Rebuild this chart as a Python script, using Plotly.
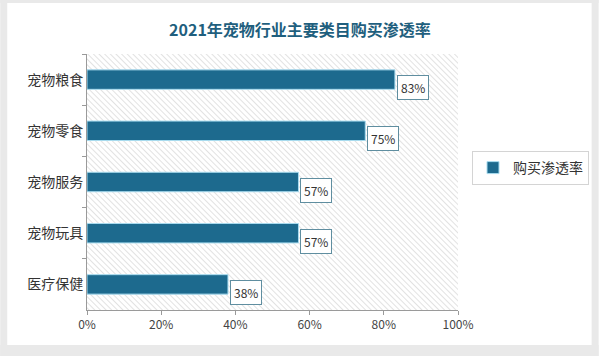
import base64
import plotly.graph_objects as go

categories = ["宠物粮食", "宠物零食", "宠物服务", "宠物玩具", "医疗保健"]
values = [83, 75, 57, 57, 38]
x_ticks = [0, 20, 40, 60, 80, 100]
x_tick_labels = ["0%", "20%", "40%", "60%", "80%", "100%"]
series_name = "购买渗透率"
title_text = "2021年宠物行业主要类目购买渗透率"

BAR = "#1d6a8e"
FONT = "Noto Sans CJK SC"

svg = ('<svg xmlns="http://www.w3.org/2000/svg" width="372" height="256" viewBox="0 0 372 256" preserveAspectRatio="none">'
       '<defs><pattern id="p" width="4" height="4" patternUnits="userSpaceOnUse" patternTransform="rotate(-45)">'
       '<line x1="0" y1="0" x2="0" y2="4" stroke="#d6d6d6" stroke-width="1.4"/></pattern></defs>'
       '<rect width="372" height="256" fill="#ffffff"/><rect width="372" height="256" fill="url(#p)"/></svg>')
svg_uri = "data:image/svg+xml;base64," + base64.b64encode(svg.encode()).decode()

fig = go.Figure()
fig.add_trace(go.Bar(
    x=values, y=categories, orientation="h", name=series_name,
    marker=dict(color=BAR, line=dict(color="#a9dcef", width=1)),
    width=0.38, showlegend=True,
))

for c, v in zip(categories, values):
    fig.add_annotation(
        x=v, y=c, text=f"{v}%", showarrow=False, xanchor="left", yanchor="middle",
        xshift=2, yshift=-8, bgcolor="white", bordercolor="#5f8ea0", borderwidth=1,
        borderpad=3, font=dict(family=FONT, size=12, color="#333333"),
    )

# outer gray frame (pixel-based via paper coords)
L, R, T, B = 87, 141, 54, 46
W, H = 600 - L - R, 356 - T - B
def px(p):
    return (p - L) / W
def py(p):
    return (356 - B - p) / H
frame = "#e9e9e9"
for x0, y0, x1, y1 in [(0, 0, 7, 356), (593, 0, 600, 356), (0, 0, 600, 3), (0, 345, 600, 356)]:
    fig.add_shape(type="rect", xref="paper", yref="paper", x0=px(x0), x1=px(x1), y0=py(y1), y1=py(y0),
                  fillcolor=frame, line=dict(width=0), layer="above")

fig.update_layout(
    width=600, height=356,
    margin=dict(l=L, r=R, t=T, b=B),
    paper_bgcolor="white", plot_bgcolor="rgba(0,0,0,0)",
    title=dict(text=title_text, x=0.5, xref="container", xanchor="center", y=0.915, yanchor="middle",
               font=dict(family=FONT, size=16, color="#1f5f7e", weight="bold")),
    images=[dict(source=svg_uri, xref="paper", yref="paper", x=0, y=1, sizex=1, sizey=1,
                 sizing="stretch", layer="below", xanchor="left", yanchor="top")],
    xaxis=dict(range=[0, 100], tickvals=x_ticks, ticktext=x_tick_labels, showgrid=False, zeroline=False,
               showline=True, linecolor="#9a9a9a", linewidth=1, ticks="outside", ticklen=4, automargin=False,
               tickcolor="#9a9a9a", tickfont=dict(family=FONT, size=12, color="#444444")),
    yaxis=dict(autorange="reversed", showgrid=False, showline=True, linecolor="#9a9a9a", linewidth=1,
               ticks="outside", ticklen=4, tickcolor="#9a9a9a", tickson="boundaries", automargin=False,
               tickfont=dict(family=FONT, size=14, color="#333333")),
    legend=dict(x=px(589), y=py(168), xanchor="right", yanchor="middle", bgcolor="white",
                bordercolor="#d4d4d4", borderwidth=1, font=dict(family=FONT, size=14, color="#333333"),
                itemwidth=30, tracegroupgap=0),
    bargap=0.62,
)

fig.write_html("out.html", config={"displayModeBar": False},
               post_script="document.body.style.margin='0';document.body.style.overflow='hidden';")
